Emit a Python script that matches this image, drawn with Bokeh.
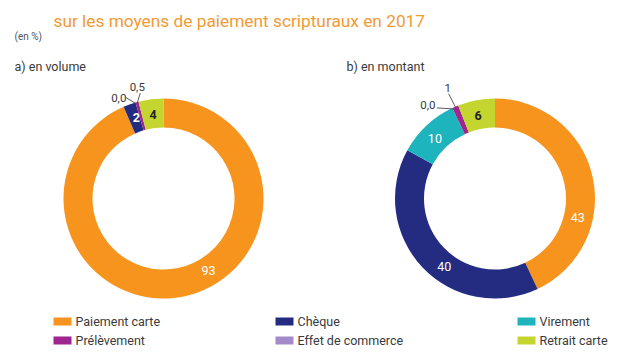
import math
from bokeh.plotting import figure
from bokeh.models import Range1d, ColumnDataSource
from bokeh.core.properties import value
from bokeh.embed import file_html
from bokeh.resources import INLINE

# ---------------- data ----------------
categories = ["Paiement carte", "Chèque", "Virement", "Effet de commerce", "Prélèvement", "Retrait carte"]
colors = ["#F7941D", "#232C80", "#1DB4BE", "#A48AC8", "#A0268F", "#C4D52F"]
volume = [93, 2, 0, 0.0, 0.5, 4]
montant = [43, 40, 10, 0.0, 1, 6]
volume_labels = ["93", "2", "", "0,0", "0,5", "4"]
montant_labels = ["43", "40", "10", "0,0", "1", "6"]
legend_order = ["Paiement carte", "Chèque", "Virement", "Prélèvement", "Effet de commerce", "Retrait carte"]

title = "sur les moyens de paiement scripturaux en 2017"
unit = "(en %)"
subtitles = ["a) en volume", "b) en montant"]

# ---------------- styling ----------------
W, H = 636, 354
FONT = "Roboto"
TXT = "#3a3a3a"


def Y(iy):
    # image-pixel y (top-down) -> data y (bottom-up)
    return H - iy


p = figure(width=W, height=H, output_backend="svg", toolbar_location=None,
           x_range=Range1d(0, W), y_range=Range1d(0, H),
           x_axis_type=None, y_axis_type=None, min_border=0)
p.outline_line_color = None
p.grid.visible = False
p.background_fill_color = "white"
p.border_fill_color = "white"

# title & headers
p.text(x=[53], y=[Y(20)], text=[title], text_font=value(FONT), text_font_size="17.3px",
       text_color="#F39A35", text_baseline="alphabetic", text_align="left")
p.text(x=[14], y=[Y(36)], text=[unit], text_font=value(FONT), text_font_size="10px",
       text_color="#555555", text_baseline="middle", text_align="left")

R_OUT, R_IN, R_LAB = 100, 71, 85
charts = [
    dict(cx=163, cy=198, vals=volume, labels=volume_labels, sub=subtitles[0], subx=14,
         frac=[0.44, 0.67, 0.5, 0.5, 0.5, 0.51],
         label_colors=["white", "white", "white", TXT, TXT, "#222222"],
         bold=[False, True, False, False, False, True],
         outside={3: ((-17, -5), (-10, -6)), 4: ((0, -16), (3, -10))}),
    dict(cx=494.5, cy=198, vals=montant, labels=montant_labels, sub=subtitles[1], subx=346,
         frac=[0.665, 0.43, 0.45, 0.5, 0.5, 0.47],
         label_colors=["white", "white", "white", TXT, TXT, "#222222"],
         bold=[False, False, False, False, False, True],
         outside={3: ((-25, -4), (-16, -1)), 4: ((-8, -20), (-7, -14))}),
]

for c in charts:
    p.text(x=[c["subx"]], y=[Y(66)], text=[c["sub"]], text_font=value(FONT), text_font_size="12.5px",
           text_color=TXT, text_baseline="middle", text_align="left")
    total = sum(c["vals"])
    starts, ends = [], []
    acc = 0.0
    for v in c["vals"]:
        a0 = math.pi / 2 - 2 * math.pi * acc / total
        acc += v
        a1 = math.pi / 2 - 2 * math.pi * acc / total
        starts.append(a0)
        ends.append(a1)
    cx, cy = c["cx"], Y(c["cy"])
    keep = [i for i, v in enumerate(c["vals"]) if v > 0]
    src = ColumnDataSource(dict(x=[cx] * len(keep), y=[cy] * len(keep),
                                s=[starts[i] for i in keep], e=[ends[i] for i in keep],
                                col=[colors[i] for i in keep]))
    p.annular_wedge(x="x", y="y", inner_radius=R_IN, outer_radius=R_OUT,
                    start_angle="s", end_angle="e", direction="clock",
                    fill_color="col", line_color=None, source=src)
    for i, lab in enumerate(c["labels"]):
        if not lab:
            continue
        if i in c["outside"]:
            mid = (starts[i] + ends[i]) / 2
            ax = cx + (R_OUT - 1) * math.cos(mid)
            ay = cy + (R_OUT - 1) * math.sin(mid)
            (tdx, tdy), (ldx, ldy) = c["outside"][i]
            p.line(x=[ax, ax + ldx], y=[ay, ay - ldy], line_color="#333333", line_width=0.8)
            p.text(x=[ax + tdx], y=[ay - tdy], text=[lab], text_font=value(FONT),
                   text_font_size="11.5px", text_color=TXT, text_baseline="middle", text_align="center")
        else:
            ang = starts[i] + c["frac"][i] * (ends[i] - starts[i])
            lx = cx + R_LAB * math.cos(ang)
            ly = cy + R_LAB * math.sin(ang)
            p.text(x=[lx], y=[ly], text=[lab], text_font=value(FONT), text_font_size="12.5px",
                   text_font_style="bold" if c["bold"][i] else "normal",
                   text_color=c["label_colors"][i], text_baseline="middle", text_align="center")

# legend (3 columns x 2 rows)
leg_cols = [53, 275, 517]
leg_rows = [321, 340]
for k, name in enumerate(legend_order):
    col = k % 3
    row = k // 3
    x0 = leg_cols[col]
    yy = Y(leg_rows[row])
    p.rect(x=[x0 + 9], y=[yy], width=18, height=8, fill_color=colors[categories.index(name)], line_color=None)
    p.text(x=[x0 + 22], y=[yy], text=[name], text_font=value(FONT), text_font_size="12.5px",
           text_color=TXT, text_baseline="middle", text_align="left")

open("out.html", "w").write(file_html(p, INLINE))
